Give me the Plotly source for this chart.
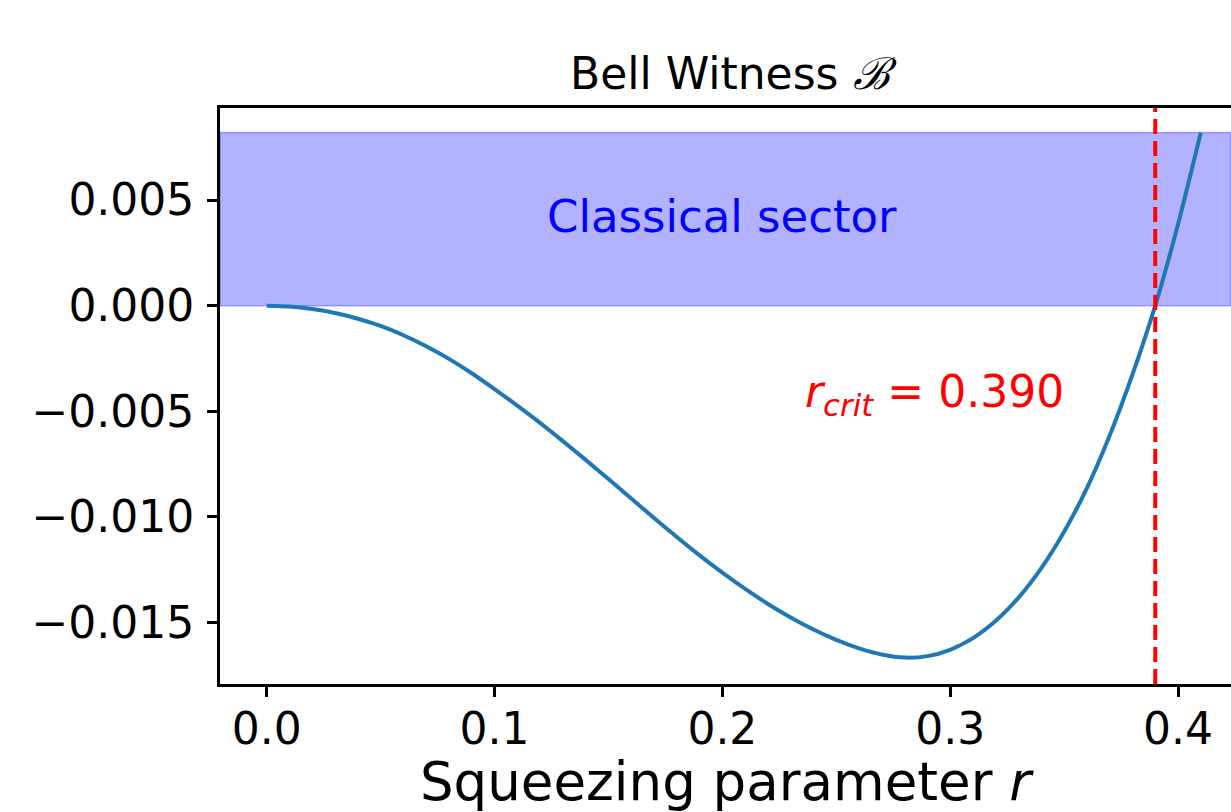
import plotly.graph_objects as go

# Squeezing parameter r and Bell witness values
r_vals = [0.00, 0.01, 0.02, 0.03, 0.04, 0.05, 0.06, 0.07, 0.08, 0.09,
          0.10, 0.11, 0.12, 0.13, 0.14, 0.15, 0.16, 0.17, 0.18, 0.19,
          0.20, 0.21, 0.22, 0.23, 0.24, 0.25, 0.26, 0.27, 0.28, 0.29,
          0.30, 0.31, 0.32, 0.33, 0.34, 0.35, 0.36, 0.37, 0.38, 0.39,
          0.40, 0.41]
bell_vals = [0.0, -0.00004, -0.00016, -0.00035, -0.00062, -0.00096, -0.00140, -0.00192, -0.00252, -0.00320,
             -0.00395, -0.00473, -0.00555, -0.00641, -0.00730, -0.00821, -0.00913, -0.01005, -0.01095, -0.01182,
             -0.01264, -0.01341, -0.01412, -0.01476, -0.01533, -0.01582, -0.01622, -0.01651, -0.01666, -0.01659,
             -0.01629, -0.01574, -0.01492, -0.01382, -0.01242, -0.01070, -0.00864, -0.00615, -0.00326, 0.0,
             0.00385, 0.00820]
r_crit = 0.390

x_ticks = [0.0, 0.1, 0.2, 0.3, 0.4]
x_ticktext = ["0.0", "0.1", "0.2", "0.3", "0.4"]
y_ticks = [-0.015, -0.010, -0.005, 0.0, 0.005]
y_ticktext = ["\u22120.015", "\u22120.010", "\u22120.005", "0.000", "0.005"]

title_text = "Bell Witness <span style=\"font-family:'Noto Sans CJK JP'\"><i>\u212C</i></span>"
x_label = "Squeezing parameter <i>r</i>"
band_label = "Classical sector"
crit_label = "<i>r</i><sub><i>crit</i></sub> = %.3f" % r_crit

FONT = "DejaVu Sans"
band_top = max(bell_vals)

fig = go.Figure()
fig.add_trace(go.Scatter(x=r_vals, y=bell_vals, mode="lines",
                         line=dict(color="#1f77b4", width=4, shape="spline", smoothing=0.6),
                         showlegend=False, hoverinfo="skip"))

# classical sector band
fig.add_shape(type="rect", xref="paper", yref="y", x0=0, x1=1, y0=0, y1=band_top,
              fillcolor="rgba(0,0,255,0.3)", line=dict(color="rgba(0,0,255,0.3)", width=1.5),
              layer="below")
# critical r line
fig.add_shape(type="line", xref="x", yref="paper", x0=r_crit, x1=r_crit, y0=0, y1=1,
              line=dict(color="#ff0000", width=4, dash="15px,7px"), layer="above")

fig.add_annotation(x=0.2, y=0.0042, xref="x", yref="y", text=band_label, showarrow=False,
                   font=dict(family=FONT, size=45, color="#0000ff"), xanchor="center", yanchor="middle")
fig.add_annotation(x=r_crit - 0.097, y=-0.0042, xref="x", yref="y", text=crit_label, showarrow=False,
                   font=dict(family=FONT, size=44, color="#ff0000"), xanchor="center", yanchor="middle")
fig.add_annotation(x=0.508, y=1, xref="paper", yref="paper", text=title_text, showarrow=False,
                   font=dict(family=FONT, size=44, color="black"), xanchor="center", yanchor="bottom",
                   yshift=4)

fig.update_layout(
    width=1231, height=812,
    margin=dict(l=220, r=0, t=108, b=128),
    paper_bgcolor="white", plot_bgcolor="white",
    font=dict(family=FONT, size=44, color="black"),
)
fig.update_xaxes(range=[-0.0205, 0.42325], tickvals=x_ticks, ticktext=x_ticktext,
                 showgrid=False, zeroline=False, showline=True, linecolor="black", linewidth=2.7,
                 mirror=True, ticks="outside", ticklen=10, tickwidth=2.7, tickcolor="black",
                 tickfont=dict(family=FONT, size=44, color="black"), ticklabelstandoff=-6,
                 title=dict(text=x_label, font=dict(family=FONT, size=53, color="black"), standoff=22))
fig.update_yaxes(range=[-0.01791, 0.009357], tickvals=y_ticks, ticktext=y_ticktext,
                 showgrid=False, zeroline=False, showline=True, linecolor="black", linewidth=2.7,
                 mirror=False, ticks="outside", ticklen=10, tickwidth=2.7, tickcolor="black",
                 tickfont=dict(family=FONT, size=44, color="black"), ticklabelstandoff=4)

fig.write_html("out.html", config={"displayModeBar": False},
               post_script="document.body.style.margin='0px';")
